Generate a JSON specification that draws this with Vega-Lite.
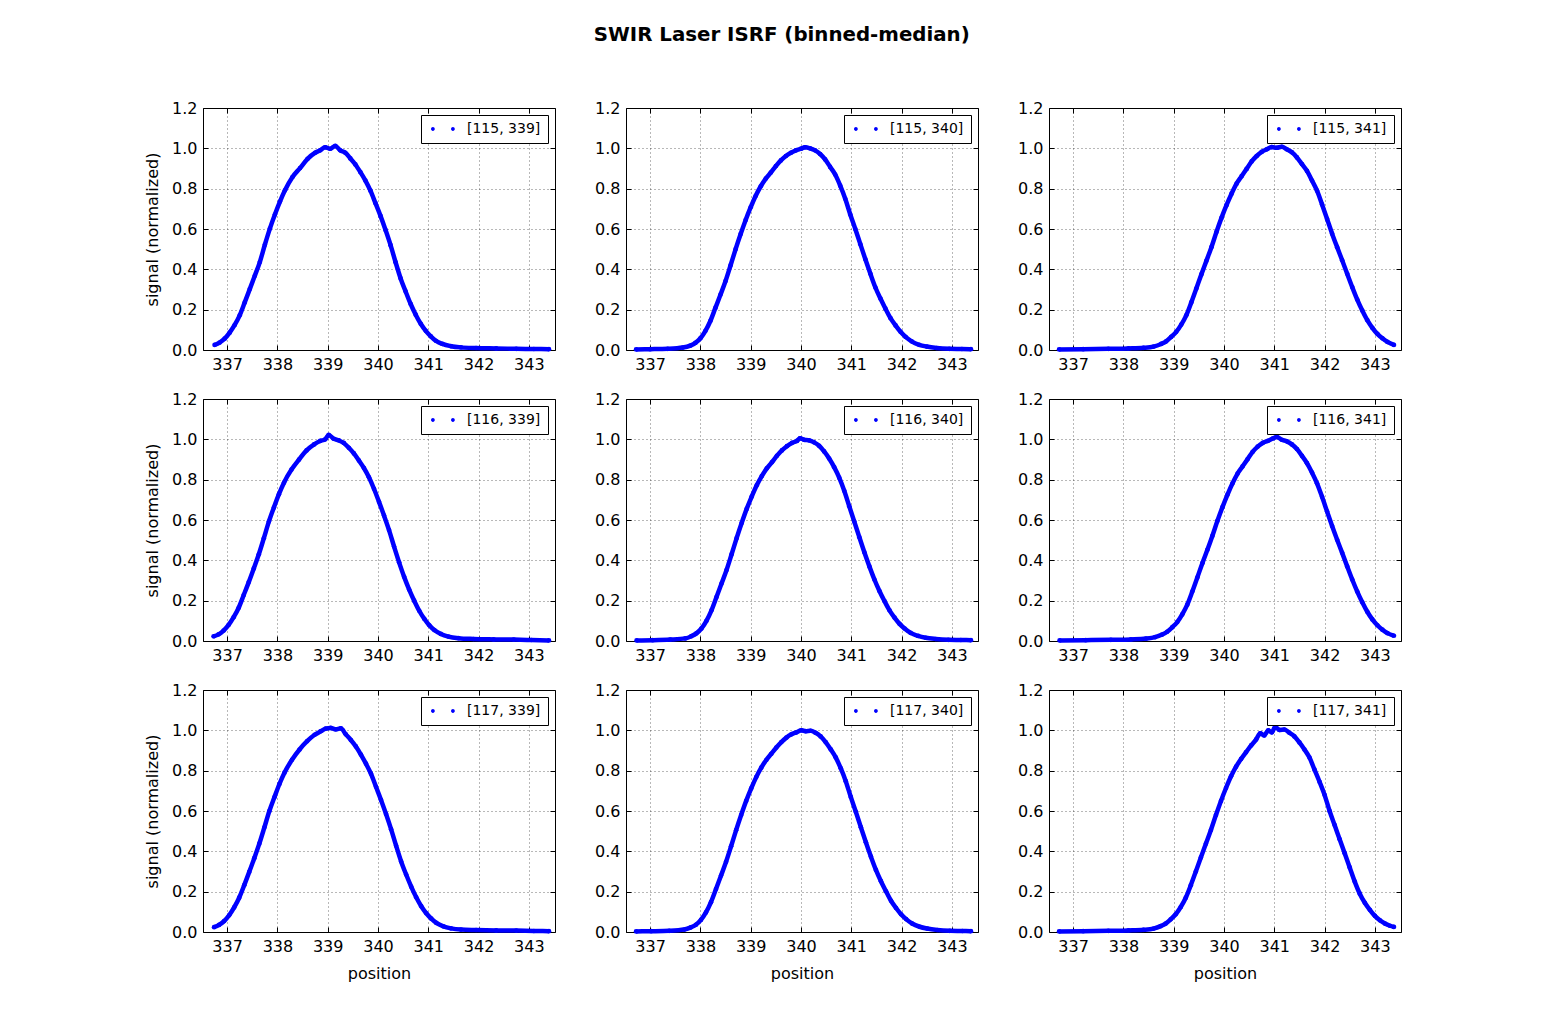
{
"$schema":"https://vega.github.io/schema/vega-lite/v6.json",
"background":"white",
"padding":{"left":144,"top":24,"right":10,"bottom":10},
"title":{"text":"SWIR Laser ISRF (binned-median)","font":"DejaVu Sans","fontSize":19.8,"fontWeight":"bold","color":"black","anchor":"middle","offset":55,"dx":8},
"columns":3,
"spacing":{"row":49,"column":71},
"bounds":"flush",
"resolve":{"scale":{"color":"independent"},"legend":{"color":"independent"}},
"datasets":{
"a1":[{"x":336.75,"y":0.025},{"x":336.85,"y":0.037},{"x":336.95,"y":0.056},{"x":337.05,"y":0.086},{"x":337.15,"y":0.124},{"x":337.25,"y":0.172},{"x":337.35,"y":0.236},{"x":337.45,"y":0.302},{"x":337.55,"y":0.368},{"x":337.65,"y":0.436},{"x":337.75,"y":0.522},{"x":337.85,"y":0.602},{"x":337.95,"y":0.672},{"x":338.05,"y":0.736},{"x":338.15,"y":0.792},{"x":338.3,"y":0.858},{"x":338.45,"y":0.902},{"x":338.6,"y":0.948},{"x":338.75,"y":0.978},{"x":338.85,"y":0.99},{"x":338.95,"y":1.005},{"x":339.05,"y":0.998},{"x":339.15,"y":1.012},{"x":339.25,"y":0.99},{"x":339.35,"y":0.978},{"x":339.45,"y":0.95},{"x":339.55,"y":0.92},{"x":339.65,"y":0.882},{"x":339.75,"y":0.84},{"x":339.85,"y":0.79},{"x":339.95,"y":0.728},{"x":340.05,"y":0.665},{"x":340.15,"y":0.595},{"x":340.25,"y":0.52},{"x":340.35,"y":0.435},{"x":340.45,"y":0.355},{"x":340.55,"y":0.29},{"x":340.65,"y":0.228},{"x":340.75,"y":0.175},{"x":340.85,"y":0.13},{"x":340.95,"y":0.095},{"x":341.05,"y":0.068},{"x":341.15,"y":0.046},{"x":341.28,"y":0.03},{"x":341.45,"y":0.019},{"x":341.65,"y":0.013},{"x":341.95,"y":0.01},{"x":342.35,"y":0.008},{"x":342.75,"y":0.006},{"x":343.1,"y":0.005},{"x":343.4,"y":0.004}],
"a2":[{"x":336.72,"y":0.003},{"x":337.0,"y":0.004},{"x":337.35,"y":0.006},{"x":337.65,"y":0.012},{"x":337.8,"y":0.022},{"x":337.9,"y":0.035},{"x":338.0,"y":0.058},{"x":338.1,"y":0.095},{"x":338.2,"y":0.145},{"x":338.3,"y":0.21},{"x":338.4,"y":0.275},{"x":338.5,"y":0.342},{"x":338.6,"y":0.42},{"x":338.7,"y":0.5},{"x":338.8,"y":0.575},{"x":338.9,"y":0.645},{"x":339.0,"y":0.708},{"x":339.1,"y":0.765},{"x":339.2,"y":0.812},{"x":339.3,"y":0.85},{"x":339.4,"y":0.88},{"x":339.5,"y":0.912},{"x":339.6,"y":0.94},{"x":339.7,"y":0.962},{"x":339.8,"y":0.978},{"x":339.9,"y":0.99},{"x":340.0,"y":0.998},{"x":340.08,"y":1.005},{"x":340.18,"y":1.0},{"x":340.28,"y":0.99},{"x":340.38,"y":0.972},{"x":340.48,"y":0.945},{"x":340.58,"y":0.908},{"x":340.68,"y":0.87},{"x":340.78,"y":0.815},{"x":340.88,"y":0.75},{"x":340.98,"y":0.672},{"x":341.08,"y":0.6},{"x":341.18,"y":0.525},{"x":341.28,"y":0.45},{"x":341.38,"y":0.378},{"x":341.48,"y":0.31},{"x":341.58,"y":0.255},{"x":341.68,"y":0.205},{"x":341.78,"y":0.158},{"x":341.88,"y":0.122},{"x":341.98,"y":0.09},{"x":342.08,"y":0.065},{"x":342.2,"y":0.043},{"x":342.35,"y":0.026},{"x":342.5,"y":0.017},{"x":342.7,"y":0.01},{"x":342.95,"y":0.006},{"x":343.2,"y":0.005},{"x":343.38,"y":0.004}],
"a3":[{"x":336.72,"y":0.003},{"x":337.2,"y":0.004},{"x":337.7,"y":0.006},{"x":338.1,"y":0.008},{"x":338.4,"y":0.011},{"x":338.6,"y":0.017},{"x":338.75,"y":0.03},{"x":338.85,"y":0.043},{"x":338.95,"y":0.065},{"x":339.05,"y":0.09},{"x":339.15,"y":0.126},{"x":339.25,"y":0.172},{"x":339.35,"y":0.236},{"x":339.45,"y":0.305},{"x":339.55,"y":0.375},{"x":339.65,"y":0.442},{"x":339.75,"y":0.51},{"x":339.85,"y":0.585},{"x":339.95,"y":0.655},{"x":340.05,"y":0.718},{"x":340.15,"y":0.775},{"x":340.25,"y":0.825},{"x":340.35,"y":0.862},{"x":340.45,"y":0.898},{"x":340.55,"y":0.935},{"x":340.65,"y":0.962},{"x":340.75,"y":0.982},{"x":340.85,"y":0.995},{"x":340.95,"y":1.006},{"x":341.05,"y":1.003},{"x":341.15,"y":1.008},{"x":341.25,"y":0.995},{"x":341.35,"y":0.98},{"x":341.45,"y":0.955},{"x":341.55,"y":0.922},{"x":341.65,"y":0.888},{"x":341.75,"y":0.84},{"x":341.85,"y":0.79},{"x":341.95,"y":0.722},{"x":342.05,"y":0.65},{"x":342.15,"y":0.577},{"x":342.25,"y":0.51},{"x":342.35,"y":0.445},{"x":342.45,"y":0.378},{"x":342.55,"y":0.312},{"x":342.65,"y":0.25},{"x":342.75,"y":0.196},{"x":342.85,"y":0.148},{"x":342.95,"y":0.11},{"x":343.05,"y":0.08},{"x":343.15,"y":0.058},{"x":343.25,"y":0.04},{"x":343.38,"y":0.025}],
"b1":[{"x":336.73,"y":0.023},{"x":336.83,"y":0.033},{"x":336.93,"y":0.052},{"x":337.03,"y":0.08},{"x":337.13,"y":0.118},{"x":337.23,"y":0.165},{"x":337.33,"y":0.228},{"x":337.43,"y":0.292},{"x":337.53,"y":0.36},{"x":337.63,"y":0.43},{"x":337.73,"y":0.51},{"x":337.83,"y":0.592},{"x":337.93,"y":0.662},{"x":338.03,"y":0.728},{"x":338.13,"y":0.785},{"x":338.28,"y":0.85},{"x":338.43,"y":0.9},{"x":338.58,"y":0.945},{"x":338.73,"y":0.975},{"x":338.85,"y":0.992},{"x":338.95,"y":1.0},{"x":339.02,"y":1.022},{"x":339.12,"y":1.003},{"x":339.22,"y":0.995},{"x":339.32,"y":0.982},{"x":339.42,"y":0.958},{"x":339.52,"y":0.93},{"x":339.62,"y":0.895},{"x":339.72,"y":0.858},{"x":339.82,"y":0.812},{"x":339.92,"y":0.755},{"x":340.02,"y":0.69},{"x":340.12,"y":0.622},{"x":340.22,"y":0.55},{"x":340.32,"y":0.468},{"x":340.42,"y":0.39},{"x":340.52,"y":0.318},{"x":340.62,"y":0.255},{"x":340.72,"y":0.2},{"x":340.82,"y":0.15},{"x":340.92,"y":0.11},{"x":341.02,"y":0.078},{"x":341.12,"y":0.054},{"x":341.25,"y":0.035},{"x":341.4,"y":0.022},{"x":341.6,"y":0.014},{"x":341.9,"y":0.01},{"x":342.3,"y":0.008},{"x":342.7,"y":0.007},{"x":343.05,"y":0.005},{"x":343.4,"y":0.003}],
"b2":[{"x":336.73,"y":0.003},{"x":337.05,"y":0.004},{"x":337.4,"y":0.007},{"x":337.7,"y":0.013},{"x":337.82,"y":0.024},{"x":337.92,"y":0.038},{"x":338.02,"y":0.062},{"x":338.12,"y":0.1},{"x":338.22,"y":0.152},{"x":338.32,"y":0.218},{"x":338.42,"y":0.285},{"x":338.52,"y":0.352},{"x":338.62,"y":0.43},{"x":338.72,"y":0.51},{"x":338.82,"y":0.585},{"x":338.92,"y":0.655},{"x":339.02,"y":0.716},{"x":339.12,"y":0.772},{"x":339.22,"y":0.818},{"x":339.32,"y":0.856},{"x":339.42,"y":0.886},{"x":339.52,"y":0.918},{"x":339.62,"y":0.945},{"x":339.72,"y":0.966},{"x":339.82,"y":0.982},{"x":339.92,"y":0.992},{"x":339.98,"y":1.005},{"x":340.06,"y":0.998},{"x":340.16,"y":0.995},{"x":340.26,"y":0.985},{"x":340.36,"y":0.968},{"x":340.46,"y":0.94},{"x":340.56,"y":0.905},{"x":340.66,"y":0.862},{"x":340.76,"y":0.81},{"x":340.86,"y":0.745},{"x":340.96,"y":0.668},{"x":341.06,"y":0.592},{"x":341.16,"y":0.515},{"x":341.26,"y":0.44},{"x":341.36,"y":0.37},{"x":341.46,"y":0.305},{"x":341.56,"y":0.248},{"x":341.66,"y":0.198},{"x":341.76,"y":0.152},{"x":341.86,"y":0.116},{"x":341.96,"y":0.085},{"x":342.06,"y":0.062},{"x":342.18,"y":0.04},{"x":342.33,"y":0.025},{"x":342.48,"y":0.016},{"x":342.68,"y":0.01},{"x":342.93,"y":0.006},{"x":343.18,"y":0.005},{"x":343.38,"y":0.004}],
"b3":[{"x":336.73,"y":0.003},{"x":337.25,"y":0.004},{"x":337.75,"y":0.006},{"x":338.15,"y":0.008},{"x":338.45,"y":0.012},{"x":338.63,"y":0.019},{"x":338.77,"y":0.032},{"x":338.87,"y":0.046},{"x":338.97,"y":0.068},{"x":339.07,"y":0.094},{"x":339.17,"y":0.132},{"x":339.27,"y":0.18},{"x":339.37,"y":0.245},{"x":339.47,"y":0.315},{"x":339.57,"y":0.386},{"x":339.67,"y":0.452},{"x":339.77,"y":0.522},{"x":339.87,"y":0.596},{"x":339.97,"y":0.664},{"x":340.07,"y":0.726},{"x":340.17,"y":0.782},{"x":340.27,"y":0.83},{"x":340.37,"y":0.866},{"x":340.47,"y":0.902},{"x":340.57,"y":0.938},{"x":340.67,"y":0.964},{"x":340.77,"y":0.982},{"x":340.87,"y":0.992},{"x":340.97,"y":1.004},{"x":341.05,"y":1.012},{"x":341.15,"y":0.998},{"x":341.25,"y":0.99},{"x":341.35,"y":0.975},{"x":341.45,"y":0.952},{"x":341.55,"y":0.918},{"x":341.65,"y":0.882},{"x":341.75,"y":0.835},{"x":341.85,"y":0.782},{"x":341.95,"y":0.715},{"x":342.05,"y":0.642},{"x":342.15,"y":0.57},{"x":342.25,"y":0.502},{"x":342.35,"y":0.437},{"x":342.45,"y":0.37},{"x":342.55,"y":0.305},{"x":342.65,"y":0.245},{"x":342.75,"y":0.192},{"x":342.85,"y":0.145},{"x":342.95,"y":0.107},{"x":343.05,"y":0.078},{"x":343.15,"y":0.056},{"x":343.25,"y":0.039},{"x":343.38,"y":0.026}],
"c1":[{"x":336.74,"y":0.024},{"x":336.84,"y":0.035},{"x":336.94,"y":0.054},{"x":337.04,"y":0.083},{"x":337.14,"y":0.122},{"x":337.24,"y":0.17},{"x":337.34,"y":0.232},{"x":337.44,"y":0.298},{"x":337.54,"y":0.366},{"x":337.64,"y":0.438},{"x":337.74,"y":0.518},{"x":337.84,"y":0.6},{"x":337.94,"y":0.668},{"x":338.04,"y":0.734},{"x":338.14,"y":0.79},{"x":338.29,"y":0.854},{"x":338.44,"y":0.905},{"x":338.59,"y":0.946},{"x":338.74,"y":0.978},{"x":338.86,"y":0.995},{"x":338.96,"y":1.008},{"x":339.06,"y":1.012},{"x":339.16,"y":1.005},{"x":339.26,"y":1.01},{"x":339.36,"y":0.98},{"x":339.46,"y":0.952},{"x":339.56,"y":0.92},{"x":339.66,"y":0.88},{"x":339.76,"y":0.835},{"x":339.86,"y":0.785},{"x":339.96,"y":0.72},{"x":340.06,"y":0.655},{"x":340.16,"y":0.585},{"x":340.26,"y":0.51},{"x":340.36,"y":0.428},{"x":340.46,"y":0.35},{"x":340.56,"y":0.285},{"x":340.66,"y":0.225},{"x":340.76,"y":0.172},{"x":340.86,"y":0.128},{"x":340.96,"y":0.093},{"x":341.06,"y":0.066},{"x":341.16,"y":0.045},{"x":341.3,"y":0.028},{"x":341.45,"y":0.018},{"x":341.65,"y":0.012},{"x":341.95,"y":0.01},{"x":342.35,"y":0.008},{"x":342.75,"y":0.007},{"x":343.1,"y":0.005},{"x":343.4,"y":0.004}],
"c2":[{"x":336.72,"y":0.003},{"x":337.02,"y":0.004},{"x":337.38,"y":0.006},{"x":337.68,"y":0.012},{"x":337.81,"y":0.023},{"x":337.91,"y":0.036},{"x":338.01,"y":0.06},{"x":338.11,"y":0.097},{"x":338.21,"y":0.148},{"x":338.31,"y":0.213},{"x":338.41,"y":0.28},{"x":338.51,"y":0.348},{"x":338.61,"y":0.425},{"x":338.71,"y":0.505},{"x":338.81,"y":0.58},{"x":338.91,"y":0.65},{"x":339.01,"y":0.712},{"x":339.11,"y":0.768},{"x":339.21,"y":0.815},{"x":339.31,"y":0.853},{"x":339.41,"y":0.884},{"x":339.51,"y":0.915},{"x":339.61,"y":0.942},{"x":339.71,"y":0.964},{"x":339.81,"y":0.98},{"x":339.91,"y":0.99},{"x":340.01,"y":1.0},{"x":340.09,"y":0.996},{"x":340.19,"y":0.998},{"x":340.29,"y":0.988},{"x":340.39,"y":0.97},{"x":340.49,"y":0.942},{"x":340.59,"y":0.906},{"x":340.69,"y":0.866},{"x":340.79,"y":0.812},{"x":340.89,"y":0.748},{"x":340.99,"y":0.67},{"x":341.09,"y":0.596},{"x":341.19,"y":0.52},{"x":341.29,"y":0.445},{"x":341.39,"y":0.374},{"x":341.49,"y":0.308},{"x":341.59,"y":0.252},{"x":341.69,"y":0.202},{"x":341.79,"y":0.155},{"x":341.89,"y":0.119},{"x":341.99,"y":0.088},{"x":342.09,"y":0.064},{"x":342.21,"y":0.042},{"x":342.36,"y":0.026},{"x":342.51,"y":0.017},{"x":342.71,"y":0.01},{"x":342.96,"y":0.006},{"x":343.21,"y":0.005},{"x":343.38,"y":0.004}],
"c3":[{"x":336.72,"y":0.003},{"x":337.2,"y":0.004},{"x":337.7,"y":0.006},{"x":338.1,"y":0.008},{"x":338.4,"y":0.011},{"x":338.6,"y":0.017},{"x":338.74,"y":0.029},{"x":338.84,"y":0.042},{"x":338.94,"y":0.063},{"x":339.04,"y":0.088},{"x":339.14,"y":0.124},{"x":339.24,"y":0.17},{"x":339.34,"y":0.232},{"x":339.44,"y":0.3},{"x":339.54,"y":0.37},{"x":339.64,"y":0.438},{"x":339.74,"y":0.506},{"x":339.84,"y":0.58},{"x":339.94,"y":0.65},{"x":340.04,"y":0.714},{"x":340.14,"y":0.772},{"x":340.24,"y":0.82},{"x":340.34,"y":0.858},{"x":340.44,"y":0.892},{"x":340.54,"y":0.925},{"x":340.64,"y":0.955},{"x":340.72,"y":0.985},{"x":340.8,"y":0.975},{"x":340.88,"y":1.0},{"x":340.95,"y":0.99},{"x":341.02,"y":1.018},{"x":341.1,"y":1.002},{"x":341.2,"y":1.004},{"x":341.3,"y":0.988},{"x":341.4,"y":0.97},{"x":341.5,"y":0.94},{"x":341.6,"y":0.905},{"x":341.7,"y":0.865},{"x":341.8,"y":0.805},{"x":341.9,"y":0.745},{"x":342.0,"y":0.68},{"x":342.1,"y":0.6},{"x":342.2,"y":0.53},{"x":342.3,"y":0.46},{"x":342.4,"y":0.39},{"x":342.5,"y":0.32},{"x":342.6,"y":0.25},{"x":342.7,"y":0.19},{"x":342.8,"y":0.145},{"x":342.9,"y":0.11},{"x":343.0,"y":0.08},{"x":343.1,"y":0.058},{"x":343.2,"y":0.042},{"x":343.3,"y":0.031},{"x":343.38,"y":0.025}]
},
"concat":[
{"width":352,"height":242,"data":{"name":"a1"},"resolve":{"scale":{"x":"independent","y":"independent"},"axis":{"x":"independent","y":"independent"}},"layer":[
 {"mark":{"type":"line","color":"#0000ff","strokeWidth":4.5,"interpolate":"monotone"},"encoding":{"x":{"field":"x","type":"quantitative","scale":{"domain":[336.52,343.52],"nice":false,"zero":false},"axis":{"orient":"bottom","values":[337,338,339,340,341,342,343],"format":"d","title":null}},"y":{"field":"y","type":"quantitative","scale":{"domain":[0,1.2],"nice":false,"zero":false},"axis":{"orient":"left","values":[0,0.2,0.4,0.6,0.8,1.0,1.2],"format":".1f","title":"signal (normalized)"}}}},
 {"mark":{"type":"point","filled":true,"size":22,"opacity":1},"encoding":{"x":{"field":"x","type":"quantitative","scale":{"domain":[336.52,343.52],"nice":false,"zero":false},"axis":{"orient":"top","values":[337,338,339,340,341,342,343],"labels":false,"grid":false,"title":null}},"y":{"field":"y","type":"quantitative","scale":{"domain":[0,1.2],"nice":false,"zero":false},"axis":{"orient":"right","values":[0,0.2,0.4,0.6,0.8,1.0,1.2],"labels":false,"grid":false,"title":null}},"color":{"datum":"[115, 339]","scale":{"range":["#0000ff"]},"legend":{"title":null}}}}
]},
{"width":352,"height":242,"data":{"name":"a2"},"resolve":{"scale":{"x":"independent","y":"independent"},"axis":{"x":"independent","y":"independent"}},"layer":[
 {"mark":{"type":"line","color":"#0000ff","strokeWidth":4.5,"interpolate":"monotone"},"encoding":{"x":{"field":"x","type":"quantitative","scale":{"domain":[336.52,343.52],"nice":false,"zero":false},"axis":{"orient":"bottom","values":[337,338,339,340,341,342,343],"format":"d","title":null}},"y":{"field":"y","type":"quantitative","scale":{"domain":[0,1.2],"nice":false,"zero":false},"axis":{"orient":"left","values":[0,0.2,0.4,0.6,0.8,1.0,1.2],"format":".1f","title":null}}}},
 {"mark":{"type":"point","filled":true,"size":22,"opacity":1},"encoding":{"x":{"field":"x","type":"quantitative","scale":{"domain":[336.52,343.52],"nice":false,"zero":false},"axis":{"orient":"top","values":[337,338,339,340,341,342,343],"labels":false,"grid":false,"title":null}},"y":{"field":"y","type":"quantitative","scale":{"domain":[0,1.2],"nice":false,"zero":false},"axis":{"orient":"right","values":[0,0.2,0.4,0.6,0.8,1.0,1.2],"labels":false,"grid":false,"title":null}},"color":{"datum":"[115, 340]","scale":{"range":["#0000ff"]},"legend":{"title":null}}}}
]},
{"width":352,"height":242,"data":{"name":"a3"},"resolve":{"scale":{"x":"independent","y":"independent"},"axis":{"x":"independent","y":"independent"}},"layer":[
 {"mark":{"type":"line","color":"#0000ff","strokeWidth":4.5,"interpolate":"monotone"},"encoding":{"x":{"field":"x","type":"quantitative","scale":{"domain":[336.52,343.52],"nice":false,"zero":false},"axis":{"orient":"bottom","values":[337,338,339,340,341,342,343],"format":"d","title":null}},"y":{"field":"y","type":"quantitative","scale":{"domain":[0,1.2],"nice":false,"zero":false},"axis":{"orient":"left","values":[0,0.2,0.4,0.6,0.8,1.0,1.2],"format":".1f","title":null}}}},
 {"mark":{"type":"point","filled":true,"size":22,"opacity":1},"encoding":{"x":{"field":"x","type":"quantitative","scale":{"domain":[336.52,343.52],"nice":false,"zero":false},"axis":{"orient":"top","values":[337,338,339,340,341,342,343],"labels":false,"grid":false,"title":null}},"y":{"field":"y","type":"quantitative","scale":{"domain":[0,1.2],"nice":false,"zero":false},"axis":{"orient":"right","values":[0,0.2,0.4,0.6,0.8,1.0,1.2],"labels":false,"grid":false,"title":null}},"color":{"datum":"[115, 341]","scale":{"range":["#0000ff"]},"legend":{"title":null}}}}
]},
{"width":352,"height":242,"data":{"name":"b1"},"resolve":{"scale":{"x":"independent","y":"independent"},"axis":{"x":"independent","y":"independent"}},"layer":[
 {"mark":{"type":"line","color":"#0000ff","strokeWidth":4.5,"interpolate":"monotone"},"encoding":{"x":{"field":"x","type":"quantitative","scale":{"domain":[336.52,343.52],"nice":false,"zero":false},"axis":{"orient":"bottom","values":[337,338,339,340,341,342,343],"format":"d","title":null}},"y":{"field":"y","type":"quantitative","scale":{"domain":[0,1.2],"nice":false,"zero":false},"axis":{"orient":"left","values":[0,0.2,0.4,0.6,0.8,1.0,1.2],"format":".1f","title":"signal (normalized)"}}}},
 {"mark":{"type":"point","filled":true,"size":22,"opacity":1},"encoding":{"x":{"field":"x","type":"quantitative","scale":{"domain":[336.52,343.52],"nice":false,"zero":false},"axis":{"orient":"top","values":[337,338,339,340,341,342,343],"labels":false,"grid":false,"title":null}},"y":{"field":"y","type":"quantitative","scale":{"domain":[0,1.2],"nice":false,"zero":false},"axis":{"orient":"right","values":[0,0.2,0.4,0.6,0.8,1.0,1.2],"labels":false,"grid":false,"title":null}},"color":{"datum":"[116, 339]","scale":{"range":["#0000ff"]},"legend":{"title":null}}}}
]},
{"width":352,"height":242,"data":{"name":"b2"},"resolve":{"scale":{"x":"independent","y":"independent"},"axis":{"x":"independent","y":"independent"}},"layer":[
 {"mark":{"type":"line","color":"#0000ff","strokeWidth":4.5,"interpolate":"monotone"},"encoding":{"x":{"field":"x","type":"quantitative","scale":{"domain":[336.52,343.52],"nice":false,"zero":false},"axis":{"orient":"bottom","values":[337,338,339,340,341,342,343],"format":"d","title":null}},"y":{"field":"y","type":"quantitative","scale":{"domain":[0,1.2],"nice":false,"zero":false},"axis":{"orient":"left","values":[0,0.2,0.4,0.6,0.8,1.0,1.2],"format":".1f","title":null}}}},
 {"mark":{"type":"point","filled":true,"size":22,"opacity":1},"encoding":{"x":{"field":"x","type":"quantitative","scale":{"domain":[336.52,343.52],"nice":false,"zero":false},"axis":{"orient":"top","values":[337,338,339,340,341,342,343],"labels":false,"grid":false,"title":null}},"y":{"field":"y","type":"quantitative","scale":{"domain":[0,1.2],"nice":false,"zero":false},"axis":{"orient":"right","values":[0,0.2,0.4,0.6,0.8,1.0,1.2],"labels":false,"grid":false,"title":null}},"color":{"datum":"[116, 340]","scale":{"range":["#0000ff"]},"legend":{"title":null}}}}
]},
{"width":352,"height":242,"data":{"name":"b3"},"resolve":{"scale":{"x":"independent","y":"independent"},"axis":{"x":"independent","y":"independent"}},"layer":[
 {"mark":{"type":"line","color":"#0000ff","strokeWidth":4.5,"interpolate":"monotone"},"encoding":{"x":{"field":"x","type":"quantitative","scale":{"domain":[336.52,343.52],"nice":false,"zero":false},"axis":{"orient":"bottom","values":[337,338,339,340,341,342,343],"format":"d","title":null}},"y":{"field":"y","type":"quantitative","scale":{"domain":[0,1.2],"nice":false,"zero":false},"axis":{"orient":"left","values":[0,0.2,0.4,0.6,0.8,1.0,1.2],"format":".1f","title":null}}}},
 {"mark":{"type":"point","filled":true,"size":22,"opacity":1},"encoding":{"x":{"field":"x","type":"quantitative","scale":{"domain":[336.52,343.52],"nice":false,"zero":false},"axis":{"orient":"top","values":[337,338,339,340,341,342,343],"labels":false,"grid":false,"title":null}},"y":{"field":"y","type":"quantitative","scale":{"domain":[0,1.2],"nice":false,"zero":false},"axis":{"orient":"right","values":[0,0.2,0.4,0.6,0.8,1.0,1.2],"labels":false,"grid":false,"title":null}},"color":{"datum":"[116, 341]","scale":{"range":["#0000ff"]},"legend":{"title":null}}}}
]},
{"width":352,"height":242,"data":{"name":"c1"},"resolve":{"scale":{"x":"independent","y":"independent"},"axis":{"x":"independent","y":"independent"}},"layer":[
 {"mark":{"type":"line","color":"#0000ff","strokeWidth":4.5,"interpolate":"monotone"},"encoding":{"x":{"field":"x","type":"quantitative","scale":{"domain":[336.52,343.52],"nice":false,"zero":false},"axis":{"orient":"bottom","values":[337,338,339,340,341,342,343],"format":"d","title":"position"}},"y":{"field":"y","type":"quantitative","scale":{"domain":[0,1.2],"nice":false,"zero":false},"axis":{"orient":"left","values":[0,0.2,0.4,0.6,0.8,1.0,1.2],"format":".1f","title":"signal (normalized)"}}}},
 {"mark":{"type":"point","filled":true,"size":22,"opacity":1},"encoding":{"x":{"field":"x","type":"quantitative","scale":{"domain":[336.52,343.52],"nice":false,"zero":false},"axis":{"orient":"top","values":[337,338,339,340,341,342,343],"labels":false,"grid":false,"title":null}},"y":{"field":"y","type":"quantitative","scale":{"domain":[0,1.2],"nice":false,"zero":false},"axis":{"orient":"right","values":[0,0.2,0.4,0.6,0.8,1.0,1.2],"labels":false,"grid":false,"title":null}},"color":{"datum":"[117, 339]","scale":{"range":["#0000ff"]},"legend":{"title":null}}}}
]},
{"width":352,"height":242,"data":{"name":"c2"},"resolve":{"scale":{"x":"independent","y":"independent"},"axis":{"x":"independent","y":"independent"}},"layer":[
 {"mark":{"type":"line","color":"#0000ff","strokeWidth":4.5,"interpolate":"monotone"},"encoding":{"x":{"field":"x","type":"quantitative","scale":{"domain":[336.52,343.52],"nice":false,"zero":false},"axis":{"orient":"bottom","values":[337,338,339,340,341,342,343],"format":"d","title":"position"}},"y":{"field":"y","type":"quantitative","scale":{"domain":[0,1.2],"nice":false,"zero":false},"axis":{"orient":"left","values":[0,0.2,0.4,0.6,0.8,1.0,1.2],"format":".1f","title":null}}}},
 {"mark":{"type":"point","filled":true,"size":22,"opacity":1},"encoding":{"x":{"field":"x","type":"quantitative","scale":{"domain":[336.52,343.52],"nice":false,"zero":false},"axis":{"orient":"top","values":[337,338,339,340,341,342,343],"labels":false,"grid":false,"title":null}},"y":{"field":"y","type":"quantitative","scale":{"domain":[0,1.2],"nice":false,"zero":false},"axis":{"orient":"right","values":[0,0.2,0.4,0.6,0.8,1.0,1.2],"labels":false,"grid":false,"title":null}},"color":{"datum":"[117, 340]","scale":{"range":["#0000ff"]},"legend":{"title":null}}}}
]},
{"width":352,"height":242,"data":{"name":"c3"},"resolve":{"scale":{"x":"independent","y":"independent"},"axis":{"x":"independent","y":"independent"}},"layer":[
 {"mark":{"type":"line","color":"#0000ff","strokeWidth":4.5,"interpolate":"monotone"},"encoding":{"x":{"field":"x","type":"quantitative","scale":{"domain":[336.52,343.52],"nice":false,"zero":false},"axis":{"orient":"bottom","values":[337,338,339,340,341,342,343],"format":"d","title":"position"}},"y":{"field":"y","type":"quantitative","scale":{"domain":[0,1.2],"nice":false,"zero":false},"axis":{"orient":"left","values":[0,0.2,0.4,0.6,0.8,1.0,1.2],"format":".1f","title":null}}}},
 {"mark":{"type":"point","filled":true,"size":22,"opacity":1},"encoding":{"x":{"field":"x","type":"quantitative","scale":{"domain":[336.52,343.52],"nice":false,"zero":false},"axis":{"orient":"top","values":[337,338,339,340,341,342,343],"labels":false,"grid":false,"title":null}},"y":{"field":"y","type":"quantitative","scale":{"domain":[0,1.2],"nice":false,"zero":false},"axis":{"orient":"right","values":[0,0.2,0.4,0.6,0.8,1.0,1.2],"labels":false,"grid":false,"title":null}},"color":{"datum":"[117, 341]","scale":{"range":["#0000ff"]},"legend":{"title":null}}}}
]}
],
"config":{
 "view":{"stroke":"black","strokeWidth":1},
 "axis":{"domain":false,"labelFont":"DejaVu Sans","labelFontSize":16,"labelColor":"black","titleFont":"DejaVu Sans","titleFontSize":16,"titleFontWeight":"normal","titleColor":"black","tickColor":"black","tickSize":-5,"tickWidth":1,"labelPadding":11,"titlePadding":11,"gridColor":"black","gridDash":[1,3],"gridOpacity":0.8,"gridWidth":0.7,"labelFlush":false,"labelOverlap":false},
 "legend":{"orient":"top-right","offset":7,"padding":7,"strokeColor":"black","strokeWidth":1,"fillColor":"white","cornerRadius":0,"labelFont":"DejaVu Sans","labelFontSize":14,"labelColor":"black","labelOffset":25,"symbolType":"M -0.57 0 A 0.27 0.27 0 1 0 -0.03 0 A 0.27 0.27 0 1 0 -0.57 0 Z M 2.29 0 A 0.27 0.27 0 1 0 2.83 0 A 0.27 0.27 0 1 0 2.29 0 Z","symbolSize":196,"symbolStrokeWidth":0}
}
}
